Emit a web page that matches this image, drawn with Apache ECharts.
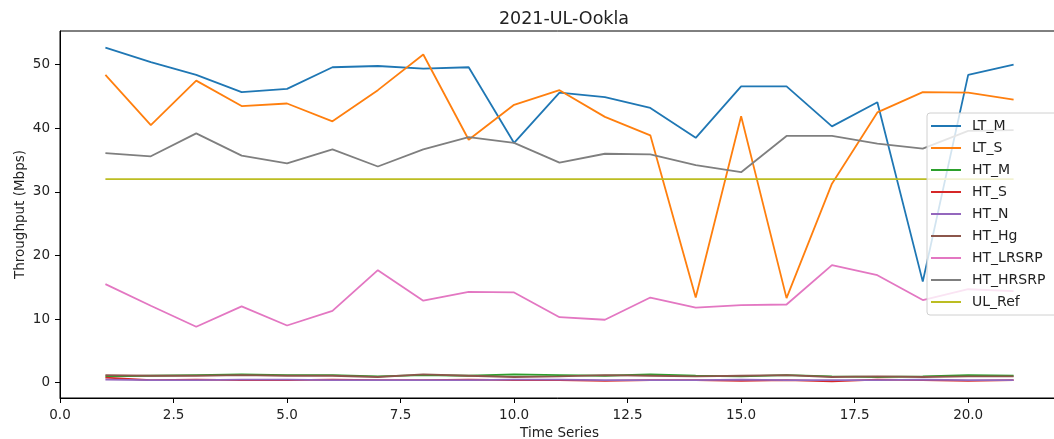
<!DOCTYPE html>
<html>
<head>
<meta charset="utf-8">
<script src="https://cdn.jsdelivr.net/npm/echarts@6/dist/echarts.min.js"></script>
<style>
html,body{margin:0;padding:0;background:#fff;}
#c{width:1054px;height:439px;}
</style>
</head>
<body>
<div id="c"></div>
<script>
const timeSeries = [1,2,3,4,5,6,7,8,9,10,11,12,13,14,15,16,17,18,19,20,21];
const LT_M     = [52.7,50.4,48.4,45.7,46.2,49.6,49.8,49.4,49.6,37.7,45.6,44.9,43.2,38.5,46.6,46.6,40.3,44.1,15.9,48.4,50.0];
const LT_S     = [48.4,40.5,47.5,43.5,43.9,41.1,46.0,51.6,38.2,43.7,46.0,41.8,38.9,13.4,41.9,13.3,31.3,42.5,45.7,45.6,44.5];
const HT_M     = [1.0,1.1,1.2,1.3,1.2,1.2,1.0,1.2,1.1,1.3,1.2,1.1,1.3,1.1,1.0,1.2,1.0,0.9,1.0,1.2,1.1];
const HT_S     = [0.8,0.4,0.5,0.4,0.4,0.5,0.4,0.4,0.5,0.4,0.4,0.3,0.4,0.4,0.3,0.4,0.2,0.5,0.4,0.3,0.4];
const HT_N     = [0.5,0.4,0.4,0.5,0.5,0.4,0.4,0.4,0.4,0.5,0.5,0.4,0.4,0.4,0.5,0.4,0.4,0.4,0.5,0.4,0.4];
const HT_Hg    = [1.2,1.1,1.1,1.2,1.1,1.1,0.9,1.3,1.1,0.9,1.0,1.2,1.1,1.0,1.1,1.2,0.9,1.0,0.9,1.0,1.0];
const HT_LRSRP = [15.5,12.1,8.8,12.0,9.0,11.3,17.7,12.9,14.3,14.2,10.3,9.9,13.4,11.8,12.2,12.3,18.5,16.9,13.0,14.7,14.4];
const HT_HRSRP = [36.1,35.6,39.2,35.7,34.5,36.7,34.0,36.7,38.6,37.7,34.6,36.0,35.9,34.2,33.1,38.8,38.8,37.6,36.8,39.6,39.7];
const UL_Ref   = [32,32,32,32,32,32,32,32,32,32,32,32,32,32,32,32,32,32,32,32,32];
const xTicks = [0,2.5,5,7.5,10,12.5,15,17.5,20];
const yTicks = [0,10,20,30,40,50];

const seriesDefs = [
  ['LT_M', LT_M, '#1f77b4'],
  ['LT_S', LT_S, '#ff7f0e'],
  ['HT_M', HT_M, '#2ca02c'],
  ['HT_S', HT_S, '#d62728'],
  ['HT_N', HT_N, '#9467bd'],
  ['HT_Hg', HT_Hg, '#8c564b'],
  ['HT_LRSRP', HT_LRSRP, '#e377c2'],
  ['HT_HRSRP', HT_HRSRP, '#7f7f7f'],
  ['UL_Ref', UL_Ref, '#bcbd22']
];

const font = 'DejaVu Sans';
const txt = '#222';
const chart = echarts.init(document.getElementById('c'), null, {renderer:'canvas'});
chart.setOption({
  animation: false,
  backgroundColor: '#fff',
  title: {
    text: '2021-UL-Ookla', left: 559, top: 5, textAlign: 'center',
    textStyle: {fontFamily: font, fontSize: 17.5, fontWeight: 'normal', color: txt}
  },
  legend: {
    orient: 'vertical', left: 927, top: 113,
    data: seriesDefs.map(d => d[0]),
    icon: 'rect', itemWidth: 30, itemHeight: 2, itemGap: 8,
    padding: [6, 20, 6, 4],
    backgroundColor: 'rgba(255,255,255,0.8)',
    borderColor: '#d0d0d0', borderWidth: 1, borderRadius: 3,
    textStyle: {fontFamily: font, fontSize: 14, color: txt, lineHeight: 14, padding: [0,0,0,6]}
  },
  grid: {left: 60, top: 31, width: 999, height: 367, show: true, borderColor: '#000', borderWidth: 1,
    containLabel: false, outerBoundsMode: 'none'},
  xAxis: {
    type: 'value', min: 0, max: 22,
    name: 'Time Series', nameLocation: 'middle', nameGap: 28, nameMoveOverlap: false,
    nameTextStyle: {fontFamily: font, fontSize: 13.5, color: txt},
    axisLine: {show: true, onZero: false, lineStyle: {color: '#000', width: 1}},
    axisTick: {show: true, length: 5, lineStyle: {color: '#000'}, customValues: xTicks},
    axisLabel: {fontFamily: font, fontSize: 13.5, color: txt, margin: 10, customValues: xTicks,
      formatter: v => v.toFixed(1)},
    splitLine: {show: false}
  },
  yAxis: {
    type: 'value', min: -2.4, max: 55.3,
    name: 'Throughput (Mbps)', nameLocation: 'middle', nameGap: 33, nameRotate: 90, nameMoveOverlap: false,
    nameTextStyle: {fontFamily: font, fontSize: 13.5, color: txt},
    axisLine: {show: true, onZero: false, lineStyle: {color: '#000', width: 1}},
    axisTick: {show: true, length: 5, lineStyle: {color: '#000'}, customValues: yTicks},
    axisLabel: {fontFamily: font, fontSize: 13.5, color: txt, margin: 10, customValues: yTicks},
    splitLine: {show: false}
  },
  series: seriesDefs.map(d => ({
    name: d[0], type: 'line',
    data: timeSeries.map((x, i) => [x, d[1][i]]),
    showSymbol: false, symbol: 'none',
    lineStyle: {color: d[2], width: 1.8},
    itemStyle: {color: d[2]},
    emphasis: {disabled: true}
  }))
});
</script>
</body>
</html>
